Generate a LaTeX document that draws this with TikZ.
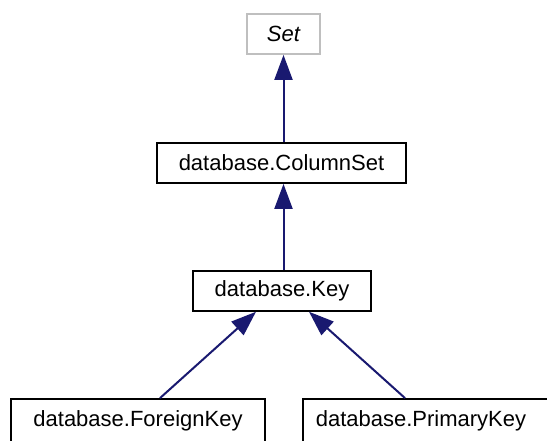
\documentclass[tikz,border=0pt]{standalone}
\usepackage{fontspec}
\setmainfont{Liberation Sans}
\usetikzlibrary{arrows.meta}
\definecolor{edgeblue}{RGB}{25,25,112}
\definecolor{greyborder}{RGB}{191,191,191}
\begin{document}
\begin{tikzpicture}[x=1pt,y=1pt,
  cls/.style={draw=black,line width=1.8pt,fill=white,rectangle,minimum height=40pt,inner sep=0pt,font=\fontsize{22}{26}\selectfont},
  abstractcls/.style={cls,draw=greyborder,font=\fontsize{22}{26}\selectfont\itshape},
  inherit/.style={draw=edgeblue,line width=2pt,-{Triangle[length=25pt,width=18pt]},fill=edgeblue}]
\fill[white] (0,0) rectangle (547,-441);
\node[abstractcls,minimum width=73pt] (set) at (283.5,-34) {Set};
\node[cls,minimum width=249pt] (colset) at (281.5,-163) {database.ColumnSet};
\node[cls,minimum width=178pt] (key) at (282,-291) {database.Key};
\node[cls,minimum width=254pt,minimum height=44pt] (fk) at (138,-421) {database.ForeignKey};
\node[cls,minimum width=300pt,minimum height=44pt] (pk) at (453,-421) {database.PrimaryKey\kern64pt\relax};
\path (fk.north -| 160,0) coordinate (fkend);
\path (pk.north -| 405,0) coordinate (pkend);
\path (256,-311.75) coordinate (keyl);
\path (309,-311.75) coordinate (keyr);
\draw[inherit] (colset.north -| set.south) -- (set.south);
\draw[inherit] (key.north -| set.south) -- (colset.south -| set.south);
\draw[inherit] (fkend) -- (keyl);
\draw[inherit] (pkend) -- (keyr);
\pgfresetboundingbox
\useasboundingbox (0,0) rectangle (547,-441);
\end{tikzpicture}
\end{document}
